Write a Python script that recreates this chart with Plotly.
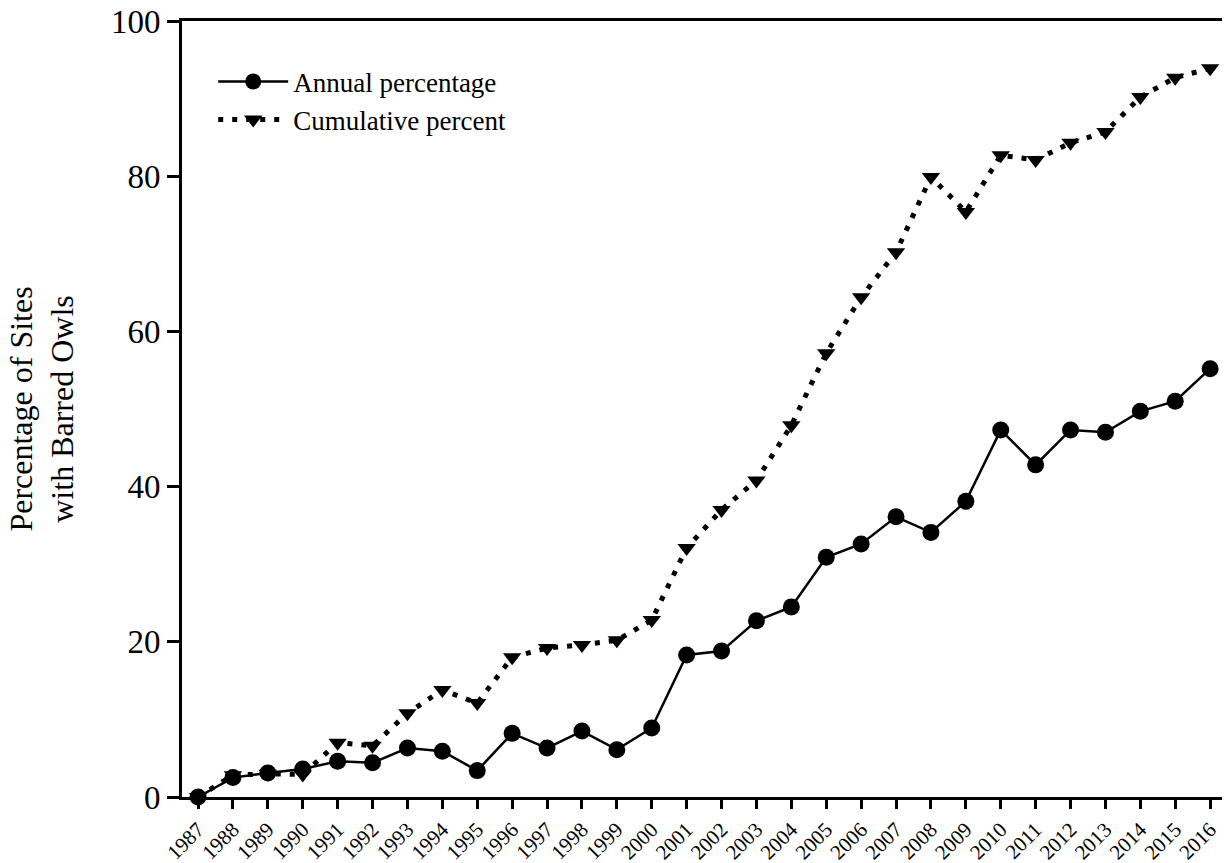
import plotly.graph_objects as go

years = list(range(1987, 2017))
annual = [0.0, 2.5, 3.1, 3.6, 4.6, 4.4, 6.3, 5.9, 3.4, 8.2, 6.3, 8.5, 6.1, 8.9,
          18.3, 18.8, 22.7, 24.5, 30.9, 32.6, 36.1, 34.1, 38.1, 47.3, 42.8, 47.3,
          47.0, 49.7, 51.0, 55.2]
cumulative = [0.0, 2.8, 3.0, 2.9, 7.0, 6.6, 10.8, 13.8, 12.1, 18.0, 19.2, 19.6,
              20.2, 22.8, 32.1, 37.0, 40.8, 47.9, 57.2, 64.4, 70.2, 79.9, 75.4,
              82.7, 82.1, 84.3, 85.7, 90.2, 92.7, 93.9]
year_labels = [str(y) for y in years]

FONT = "Liberation Serif, Times New Roman, serif"

fig = go.Figure()
fig.add_trace(go.Scatter(
    x=years, y=annual, name="Annual percentage", mode="lines+markers",
    line=dict(color="black", width=2.5),
    marker=dict(symbol="circle", size=17, color="black"),
    cliponaxis=False,
))
fig.add_trace(go.Scatter(
    x=years, y=cumulative, name="Cumulative percent", mode="lines+markers",
    line=dict(color="black", width=5, dash="5px,9px"),
    marker=dict(symbol="triangle-down", size=16, color="black"),
    cliponaxis=False,
))

fig.update_layout(
    width=1226, height=863,
    margin=dict(l=182, r=4, t=21, b=66),
    paper_bgcolor="white", plot_bgcolor="white",
    font=dict(family=FONT, color="black"),
    showlegend=True,
    legend=dict(x=0.03, y=0.953, xanchor="left", yanchor="top",
                font=dict(size=27, family=FONT), bgcolor="rgba(0,0,0,0)",
                itemwidth=70, tracegroupgap=0),
)
fig.update_xaxes(
    range=[1986.54, 2016.34], automargin=False,
    tickmode="array", tickvals=years, ticktext=year_labels,
    tickangle=-45, tickfont=dict(size=21, family=FONT),
    ticks="outside", ticklen=9, tickwidth=3, tickcolor="black",
    showline=True, linewidth=3, linecolor="black", mirror=True,
    showgrid=False, zeroline=False,
)
fig.update_yaxes(
    range=[0, 100], tickvals=[0, 20, 40, 60, 80, 100], automargin=False,
    tickfont=dict(size=33, family=FONT),
    ticks="outside", ticklen=12, tickwidth=3, tickcolor="black",
    showline=True, linewidth=3, linecolor="black",
    showgrid=False, zeroline=False,
    title=dict(text="Percentage of Sites<br>with Barred Owls",
               font=dict(size=32, family=FONT), standoff=28),
)

fig.write_html("out.html", config={"displayModeBar": False},
               post_script="document.body.style.margin='0';document.body.style.overflow='hidden';")
